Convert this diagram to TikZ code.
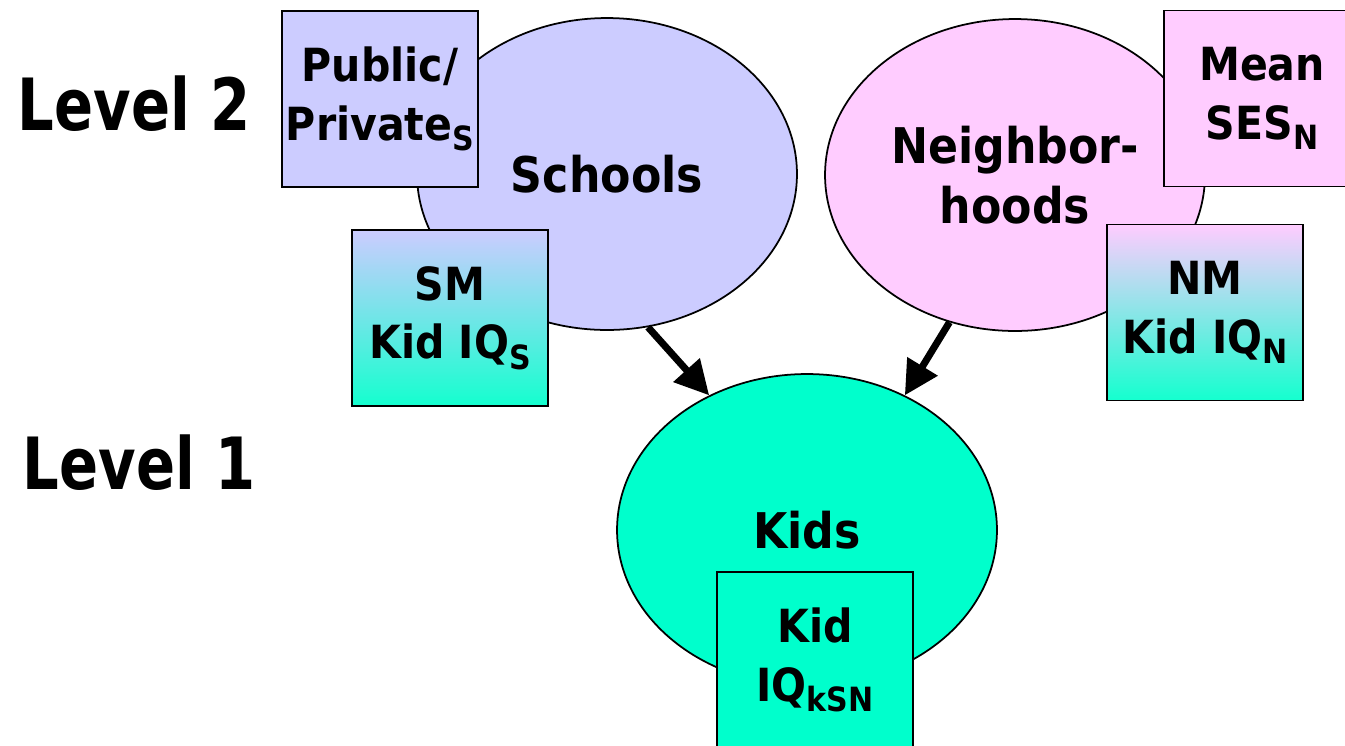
\documentclass[tikz,border=0pt]{standalone}
\usepackage{fontspec}
\setmainfont[FakeStretch=0.9]{DejaVu Sans}
\newfontfamily\levelfont[FakeStretch=0.8]{DejaVu Sans}
\usetikzlibrary{shapes.geometric,arrows.meta}
\definecolor{schoolc}{HTML}{CCCCFF}
\definecolor{neighc}{HTML}{FFCCFF}
\definecolor{kidc}{HTML}{00FFCC}
\definecolor{kidbot}{HTML}{14FFCF}
\newcommand\subs[1]{\raisebox{-6pt}{\fontsize{19}{19}\selectfont #1}}
\begin{document}
\begin{tikzpicture}[x=0.02cm,y=-0.02cm,
  blob/.style={ellipse,draw=black,line width=1pt,inner sep=0pt,
    minimum width=7.6cm,minimum height=6.24cm,align=center,
    font=\bfseries\fontsize{28}{34}\selectfont},
  varbox/.style={rectangle,draw=black,line width=1.1pt,inner sep=0pt,
    minimum width=3.92cm,minimum height=3.52cm,align=center,
    font=\bfseries\fontsize{26}{33.5}\selectfont},
  levellab/.style={font=\levelfont\bfseries\fontsize{41}{44}\selectfont,inner sep=0pt,anchor=base},
  arr/.style={line width=4pt,-{Triangle[length=0.68cm,width=0.68cm]}}]
\useasboundingbox (0,0) rectangle (1345,745);
\node[levellab] (lev2) at (134,130) {Level 2};
\node[levellab] (lev1) at (139,489) {Level 1};
\node[blob,fill=schoolc] (schools) at (607,174) {Schools};
\node[blob,fill=neighc] (neigh) at (1015,175) {Neighbor-\\hoods};
\node[blob,fill=kidc] (kids) at (807,530) {Kids};
\node[varbox,fill=schoolc] (pub) at (380,99) {Public/\\Private\subs{S}};
\node[varbox,top color=schoolc,bottom color=kidbot] (sm) at (450,318) {SM\\Kid IQ\subs{S}};
\node[varbox,fill=neighc] (ses) at (1262,98.5) {Mean\\SES\subs{N}};
\node[varbox,top color=neighc,bottom color=kidbot] (nm) at (1205,312.5) {NM\\Kid IQ\subs{N}};
\node[varbox,fill=kidc] (kiq) at (815,660) {Kid\\IQ\subs{kSN}};
\draw[arr] (schools.-75) -- (kids.126);
\draw[arr] (neigh.-114) -- (kids.54);
\end{tikzpicture}
\end{document}
